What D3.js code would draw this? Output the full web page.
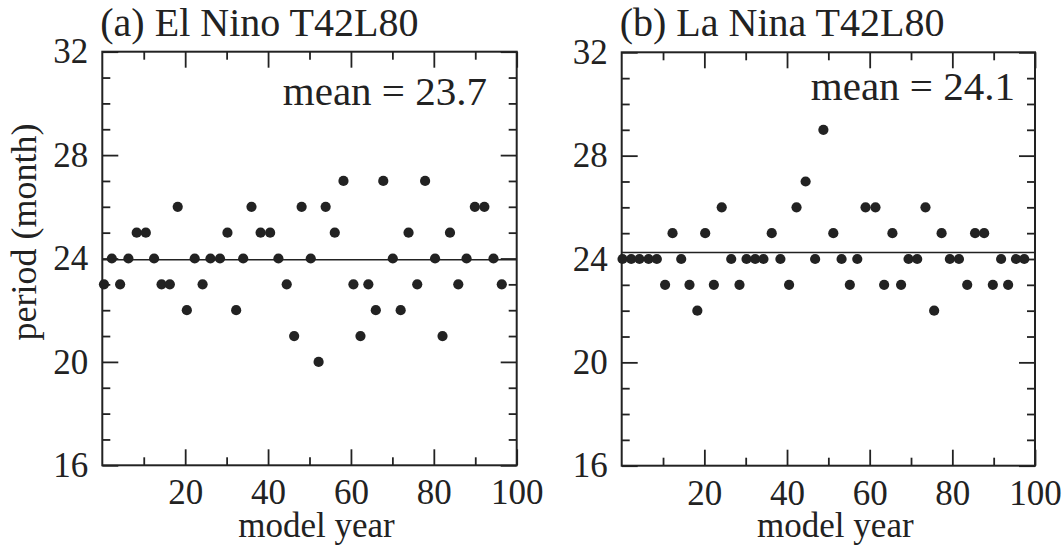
<!DOCTYPE html>
<html><head><meta charset="utf-8">
<script src="https://cdn.jsdelivr.net/npm/d3@7"></script>
<style>
html,body{margin:0;padding:0;background:#fff;}
svg{display:block;}
text{font-family:"Liberation Serif","Times New Roman",serif;fill:#222;}
</style></head>
<body><svg id="c" width="1062" height="548"></svg>
<script>
// Panel (a) El Nino: model year and period (month)
const yearsA = [0.4,2.3,4.3,6.3,8.3,10.5,12.5,14.3,16.3,18.2,20.4,22.3,24.2,26.1,28.4,30.2,32.3,34.0,36.0,38.2,40.5,42.5,44.5,46.3,48.1,50.3,52.2,53.9,56.1,58.2,60.6,62.3,64.2,66.0,67.8,70.1,72.0,73.9,76.0,77.9,80.3,82.1,83.9,85.9,87.9,89.9,92.2,94.4,96.4];
const periodA = [23,24,23,24,25,25,24,23,23,26,22,24,23,24,24,25,22,24,26,25,25,24,23,21,26,24,20,26,25,27,23,21,23,22,27,24,22,25,23,27,24,21,25,23,24,26,26,24,23];
// Panel (b) La Nina
const yearsB = [0.2,2.3,4.3,6.5,8.5,10.5,12.3,14.4,16.4,18.3,20.2,22.3,24.2,26.5,28.5,30.2,32.3,34.3,36.3,38.4,40.5,42.3,44.5,46.8,48.8,51.2,53.2,55.2,57.0,59.0,61.4,63.5,65.5,67.6,69.4,71.5,73.5,75.6,77.4,79.4,81.6,83.6,85.5,87.7,89.8,91.8,93.5,95.4,97.4];
const periodB = [24,24,24,24,24,23,25,24,23,22,25,23,26,24,23,24,24,24,25,24,23,26,27,24,29,25,24,23,24,26,26,23,25,23,24,24,26,22,25,24,24,23,25,25,23,24,23,24,24];
const titles = ["(a) El Nino T42L80", "(b) La Nina T42L80"];
const meanLabels = ["mean = 23.7", "mean = 24.1"];
const meanLines = [23.95, 24.25];
const xMajor = [20,40,60,80,100];
const xMinor = [10,30,50,70,90];
const yMajor = [16,20,24,28,32];
const yMinor = [17,18,19,21,22,23,25,26,27,29,30,31];
const xLabel = "model year";
const yLabel = "period (month)";

const svg = d3.select("#c");
const ink = "#222";

const panels = [
  {x0:102.3, x1:516.7, y0:51.7, y1:465.3, yrs:yearsA, per:periodA, meanX:487, meanY:105},
  {x0:621.7, x1:1035, y0:52.3, y1:465.7, yrs:yearsB, per:periodB, meanX:1015, meanY:100}
];

panels.forEach((p,i)=>{
  const x = d3.scaleLinear().domain([0,100]).range([p.x0,p.x1]);
  const y = d3.scaleLinear().domain([16,32]).range([p.y1,p.y0]);
  const g = svg.append("g");

  function axis(gen, vals, size, labels, tr, pad){
    const a = gen.tickValues(vals).tickSizeInner(-size).tickSizeOuter(0).tickPadding(pad||14)
      .tickFormat(labels ? d3.format("d") : "");
    const ag = g.append("g").attr("transform",tr).call(a);
    ag.select(".domain").remove();
    ag.selectAll("line").attr("stroke",ink).attr("stroke-width",1.8);
    ag.selectAll("text").style("font-size","35px").attr("fill",ink).style("font-family",'"Liberation Serif",serif');
    return ag;
  }
  axis(d3.axisBottom(x), xMajor, 16, true, `translate(0,${p.y1})`, 14);
  axis(d3.axisBottom(x), xMinor, 8, false, `translate(0,${p.y1})`);
  axis(d3.axisTop(x), xMajor, 16, false, `translate(0,${p.y0})`);
  axis(d3.axisTop(x), xMinor, 8, false, `translate(0,${p.y0})`);
  axis(d3.axisLeft(y), yMajor, 16, true, `translate(${p.x0},0)`, 14);
  axis(d3.axisLeft(y), yMinor, 8, false, `translate(${p.x0},0)`);
  axis(d3.axisRight(y), yMajor, 16, false, `translate(${p.x1},0)`);
  axis(d3.axisRight(y), yMinor, 8, false, `translate(${p.x1},0)`);

  g.append("rect").attr("x",p.x0).attr("y",p.y0).attr("width",p.x1-p.x0).attr("height",p.y1-p.y0)
    .attr("fill","none").attr("stroke",ink).attr("stroke-width",2);

  g.append("line").attr("x1",x(0)).attr("x2",x(100)).attr("y1",y(meanLines[i])).attr("y2",y(meanLines[i]))
    .attr("stroke",ink).attr("stroke-width",1.6);

  g.selectAll("circle.pt").data(p.yrs.map((d,k)=>[d,p.per[k]])).enter().append("circle")
    .attr("class","pt").attr("cx",d=>x(d[0])).attr("cy",d=>y(d[1])).attr("r",5.1).attr("fill",ink);

  g.append("text").attr("x",p.x0-2).attr("y",36).style("font-size","40px").text(titles[i]);
  g.append("text").attr("x",p.meanX).attr("y",p.meanY).attr("text-anchor","end").style("font-size","41px").text(meanLabels[i]);
  g.append("text").attr("x",(p.x0+p.x1)/2+7).attr("y",537).attr("text-anchor","middle").style("font-size","35px").text(xLabel);
});

svg.append("text").attr("transform","translate(36,232) rotate(-90)").attr("text-anchor","middle")
  .style("font-size","36px").text(yLabel);
</script>
</body></html>
